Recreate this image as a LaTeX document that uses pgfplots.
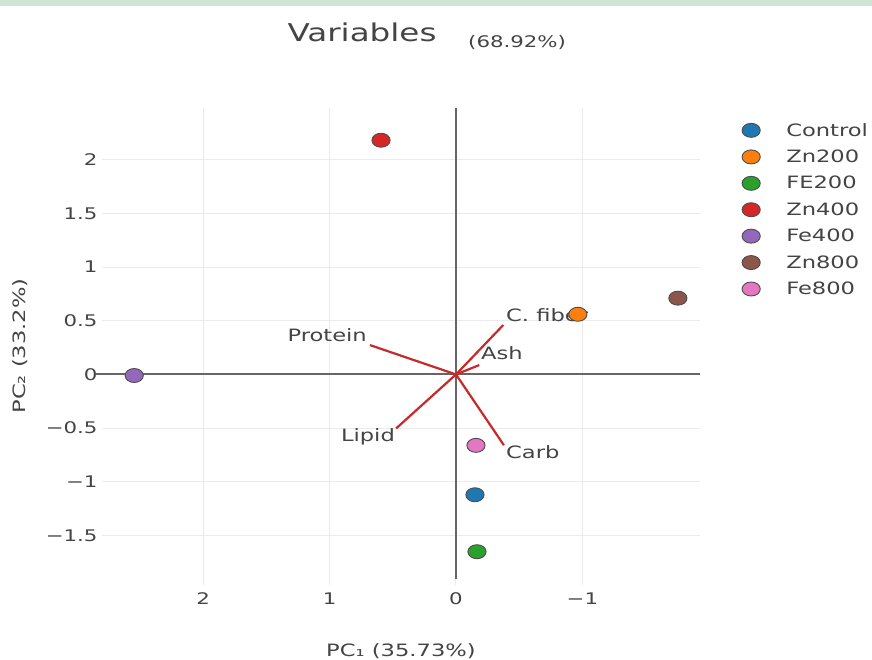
\documentclass[border=0pt]{standalone}
\usepackage{pgfplots}
\pgfplotsset{compat=1.18}
\usepackage{fontspec}
\setmainfont{DejaVu Sans}[FakeStretch=1.33]

\definecolor{txt}{HTML}{444444}
\definecolor{gridc}{HTML}{EBEBEB}
\definecolor{zeroc}{HTML}{666666}
\definecolor{vec}{HTML}{C62A2A}
\definecolor{band}{HTML}{CDE6D6}
\definecolor{cControl}{HTML}{1F77B4}
\definecolor{cZnA}{HTML}{FF7F0E}
\definecolor{cFeA}{HTML}{2CA02C}
\definecolor{cZnB}{HTML}{D62728}
\definecolor{cFeB}{HTML}{9467BD}
\definecolor{cZnC}{HTML}{8C564B}
\definecolor{cFeC}{HTML}{E377C2}

\newcommand{\fs}[1]{\fontsize{#1}{#1}\selectfont}

\begin{document}
\begin{tikzpicture}[x=1pt,y=1pt]
  % canvas
  \fill[white] (0,0) rectangle (872,-659);
  \path[use as bounding box] (0,0) rectangle (872,-659);
  \fill[band] (0,0) rectangle (872,-6);

  % titles
  \node[anchor=base, text=txt, inner sep=0] at (362,-41) {\fs{24.5}Variables};
  \node[anchor=base west, text=txt, inner sep=0] at (468,-47) {\fs{16}(68.92\%)};
  \node[anchor=base, text=txt, inner sep=0] at (401,-656) {\fs{17}PC₁ (35.73\%)};
  \node[rotate=90, text=txt, inner sep=0] at (20,-346) {\fs{17}PC₂ (33.2\%)};

  \begin{axis}[
    at={(102pt,-585pt)}, anchor=south west,
    scale only axis, width=598pt, height=477pt,
    x dir=reverse,
    xmin=-1.93, xmax=2.80, ymin=-1.96, ymax=2.48,
    axis line style={draw=none}, tick style={draw=none},
    grid=major, major grid style={gridc, line width=1pt},
    xtick={-1,0,1,2}, xticklabels={−1,0,1,2},
    ytick={-1.5,-1,-0.5,0,0.5,1,1.5,2},
    yticklabels={−1.5,−1,−0.5,0,0.5,1,1.5,2},
    ticklabel style={font=\fs{16}, text=txt},
    xticklabel style={yshift=-4pt},
    yticklabel style={xshift=-1pt},
    clip=false,
    legend style={at={(1.07,0.975)}, anchor=north west, draw=none, fill=none,
      font=\fs{17}, text=txt, row sep=6.3pt, inner sep=0pt,
      nodes={inner sep=3pt},
      /tikz/every odd column/.append style={column sep=23pt}},
    legend cell align=left,
    score/.style={only marks, mark=*,
      mark options={draw=black!70, line width=0.9pt, xscale=1.3, fill=#1}, mark size=7pt},
    loading/.style={forget plot, no marks, vec, line width=2.2pt},
  ]
    % zero lines
    \draw[zeroc, line width=2pt] (axis cs:2.85,0) -- (axis cs:-1.93,0);
    \draw[zeroc, line width=2pt] (axis cs:0,-1.9) -- (axis cs:0,2.48);

    % loading vectors
    \addplot[loading] coordinates {(0,0) (0.680,0.273)};
    \addplot[loading] coordinates {(0,0) (-0.374,0.460)};
    \addplot[loading] coordinates {(0,0) (-0.184,0.087)};
    \addplot[loading] coordinates {(0,0) (0.474,-0.503)};
    \addplot[loading] coordinates {(0,0) (-0.379,-0.659)};

    \node[anchor=east, text=txt, inner sep=1pt, font=\fs{17}] at (axis cs:0.696,0.363) {Protein};
    \node[anchor=west, text=txt, inner sep=1pt, font=\fs{17}] at (axis cs:-0.387,0.550) {C. fiber};
    \node[anchor=west, text=txt, inner sep=1pt, font=\fs{17}] at (axis cs:-0.190,0.196) {Ash};
    \node[anchor=east, text=txt, inner sep=1pt, font=\fs{17}] at (axis cs:0.474,-0.578) {Lipid};
    \node[anchor=west, text=txt, inner sep=1pt, font=\fs{17}] at (axis cs:-0.387,-0.727) {Carb};

    % scores
    \addplot[score=cControl] coordinates {(-0.150,-1.120)};
    \addlegendentry{Control}
    \addplot[score=cZnA] coordinates {(-0.964,0.560)};
    \addlegendentry{Zn200}
    \addplot[score=cFeA] coordinates {(-0.166,-1.650)};
    \addlegendentry{FE200}
    \addplot[score=cZnB] coordinates {(0.593,2.180)};
    \addlegendentry{Zn400}
    \addplot[score=cFeB] coordinates {(2.545,-0.010)};
    \addlegendentry{Fe400}
    \addplot[score=cZnC] coordinates {(-1.755,0.710)};
    \addlegendentry{Zn800}
    \addplot[score=cFeC] coordinates {(-0.158,-0.660)};
    \addlegendentry{Fe800}
  \end{axis}
\end{tikzpicture}
\end{document}
